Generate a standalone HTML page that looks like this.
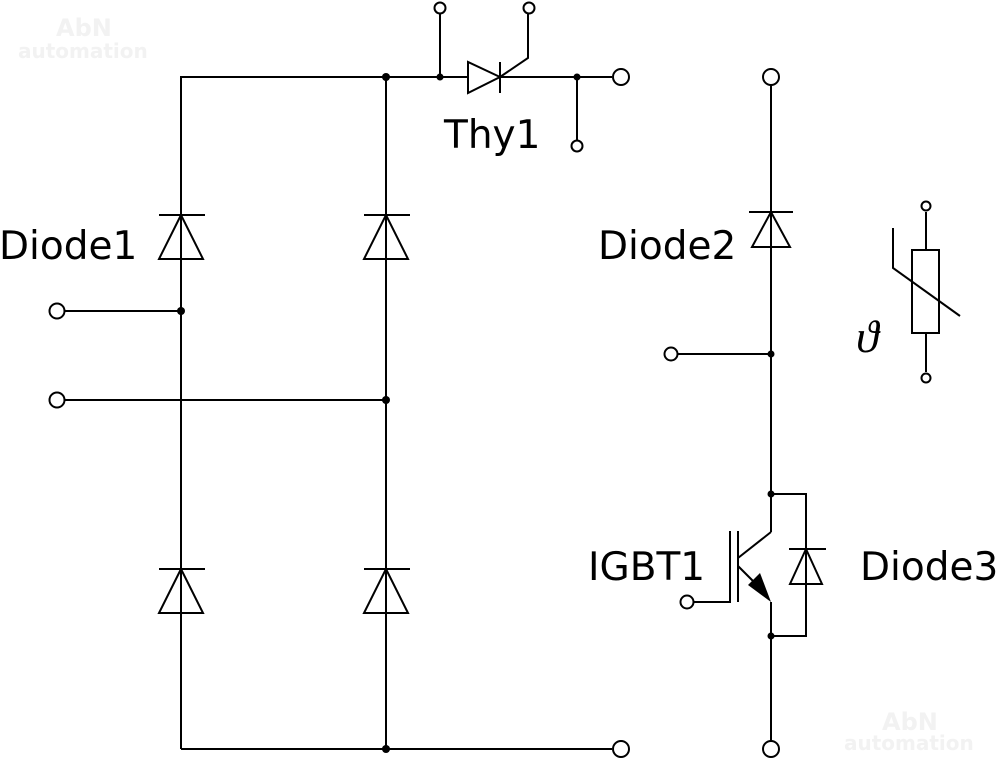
<!DOCTYPE html>
<html><head><meta charset="utf-8"><style>
html,body{margin:0;padding:0;background:#fff;}
svg{display:block;}
text{font-family:"DejaVu Sans","Liberation Sans",sans-serif;font-size:39px;fill:#000;}
</style></head><body>
<svg width="1000" height="762" viewBox="0 0 1000 762" xmlns="http://www.w3.org/2000/svg">
<g fill="none" stroke="#000" stroke-width="2">
<polyline points="181,749 181,77 612,77"/>
<line x1="386" y1="77" x2="386" y2="749"/>
<line x1="181" y1="749" x2="612" y2="749"/>
<line x1="159" y1="215" x2="205" y2="215"/><polygon points="181,215 159,259 203,259"/>
<line x1="364" y1="215" x2="410" y2="215"/><polygon points="386,215 364,259 408,259"/>
<line x1="159" y1="569" x2="205" y2="569"/><polygon points="181,569 159,613 203,613"/>
<line x1="364" y1="569" x2="410" y2="569"/><polygon points="386,569 364,613 408,613"/>
<line x1="64" y1="311" x2="181" y2="311"/>
<line x1="64" y1="400" x2="386" y2="400"/>
<polygon points="468,62 468,93 500,77" fill="#fff"/>
<line x1="500" y1="62" x2="500" y2="93"/>
<polyline points="500,77 528,58 528,14"/>
<line x1="440" y1="77" x2="440" y2="14"/>
<line x1="577" y1="77" x2="577" y2="140"/>
<line x1="771" y1="85" x2="771" y2="532"/>
<line x1="749" y1="212" x2="793" y2="212"/><polygon points="771,212 752,247 790,247"/>
<line x1="678" y1="354" x2="771" y2="354"/>
<polyline points="771,494 806,494 806,636 771,636"/>
<line x1="789" y1="549" x2="826" y2="549"/><polygon points="806,549 790,584 822,584"/>
<line x1="771" y1="532" x2="738" y2="558"/>
<line x1="738" y1="531" x2="738" y2="602"/>
<polyline points="730,531 730,602 694,602"/>
<line x1="738" y1="566" x2="762" y2="590"/>
<line x1="771" y1="602" x2="771" y2="741"/>
<rect x="912" y="250" width="27" height="83"/>
<line x1="926" y1="212" x2="926" y2="250"/>
<line x1="926" y1="333" x2="926" y2="372"/>
<polyline points="893,228 893,268 960,316"/>
</g>
<polygon points="771,602 748,585 760,573" fill="#000"/>
<g fill="#000">
<circle cx="386" cy="77" r="4"/><circle cx="440" cy="77" r="3.5"/><circle cx="577" cy="77" r="3.5"/>
<circle cx="181" cy="311" r="4"/><circle cx="386" cy="400" r="4"/><circle cx="386" cy="749" r="4"/>
<circle cx="771" cy="354" r="3.5"/><circle cx="771" cy="494" r="3.5"/><circle cx="771" cy="636" r="3.5"/>
</g>
<g fill="#fff" stroke="#000" stroke-width="2">
<circle cx="57" cy="311" r="7.5"/><circle cx="57" cy="400" r="7.5"/>
<circle cx="621" cy="77" r="8"/><circle cx="621" cy="749" r="8"/>
<circle cx="440" cy="8" r="5.5"/><circle cx="529" cy="8" r="5.5"/><circle cx="577" cy="146" r="5.5"/>
<circle cx="771" cy="77" r="8"/><circle cx="771" cy="749" r="8"/>
<circle cx="671" cy="354" r="6.5"/><circle cx="687" cy="602" r="6.5"/>
<circle cx="926" cy="206" r="4.5"/><circle cx="926" cy="378" r="4.5"/>
</g>
<text x="-1" y="259">Diode1</text>
<text x="444" y="148">Thy1</text>
<text x="598" y="259">Diode2</text>
<text x="588" y="580">IGBT1</text>
<text x="860" y="580">Diode3</text>
<text x="856" y="352" style="font-family:'Liberation Serif',serif;font-style:italic;font-size:46px">ϑ</text>
<g style="font-weight:bold">
<text x="56" y="36" style="font-size:24px;fill:#f2f2f2">AbN</text>
<text x="18" y="58" style="font-size:20px;fill:#f2f2f2">automation</text>
<text x="882" y="730" style="font-size:24px;fill:#f2f2f2">AbN</text>
<text x="844" y="750" style="font-size:20px;fill:#f2f2f2">automation</text>
</g>
</svg>
</body></html>
